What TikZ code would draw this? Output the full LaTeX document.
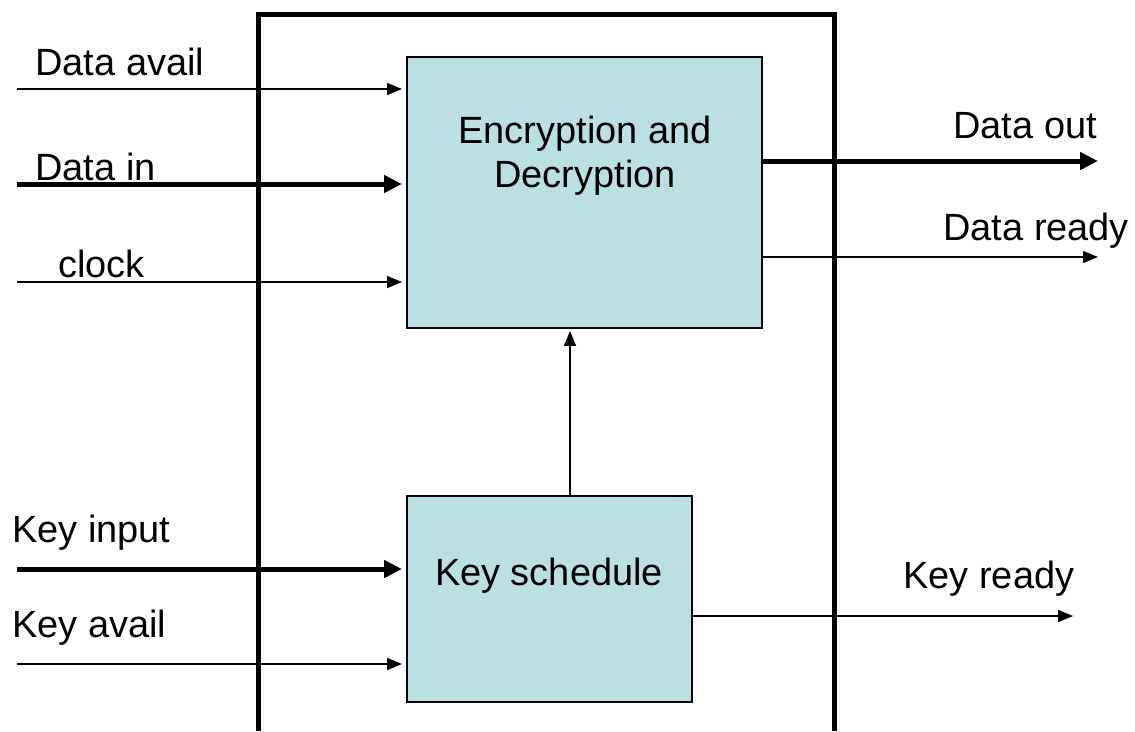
\documentclass[tikz,border=0pt]{standalone}
\usepackage{fontspec}
\setmainfont{Liberation Sans}
\usepackage{tikz}
\usetikzlibrary{arrows.meta, calc}

\definecolor{boxfill}{RGB}{186,224,228}

\tikzset{
  frame/.style={line width=2.85pt, line join=miter},
  block/.style={draw, fill=boxfill, line width=1.1pt, inner sep=0pt, outer sep=0pt},
  sig/.style={line width=0.85pt, -{Triangle[length=0.3cm, width=0.24cm]}},
  bus/.style={line width=2.85pt, -{Triangle[length=0.36cm, width=0.34cm]}},
  lab/.style={font=\fontsize{21.6}{26}\selectfont, inner sep=0pt}
}

\begin{document}
\begin{tikzpicture}[x=0.02cm, y=-0.02cm]
      \useasboundingbox (0,0) rectangle (1135,731);

      \coordinate (fa) at (258,731);
      \coordinate (fb) at (258,14);
      \coordinate (fc) at (834,14);
      \coordinate (fd) at (834,731);

      \coordinate (davail) at (17,89);
      \coordinate (din) at (17,184);
      \coordinate (clk) at (17,282);
      \coordinate (kin) at (17,569);
      \coordinate (kavail) at (17,664);

      \coordinate (dout) at (1098,161);
      \coordinate (dready) at (1098,257);
      \coordinate (kready) at (1073,616);

      \coordinate (kup) at (570,496);

      \draw[frame] (fa) -- (fb) -- (fc) -- (fd);

      \node[block, minimum width=7.1cm, minimum height=5.42cm] (enc) at (584.5,192.5) {};
      \node[block, minimum width=5.7cm, minimum height=4.12cm] (keysched) at (549.5,599) {};

      \node[lab, anchor=base] (enctxt) at (585,143) {Encryption and};
      \node[lab, anchor=base] (dectxt) at (585,187) {Decryption};
      \node[lab, anchor=base] (kstxt) at (549,585) {Key schedule};

      \draw[sig, shorten >=0.1cm] (davail) -- (davail -| enc.west);
      \draw[bus, shorten >=0.1cm] (din) -- (din -| enc.west);
      \draw[sig, shorten >=0.1cm] (clk) -- (clk -| enc.west);
      \draw[bus, shorten >=0.1cm] (kin) -- (kin -| keysched.west);
      \draw[sig, shorten >=0.1cm] (kavail) -- (kavail -| keysched.west);

      \draw[bus] (dout -| enc.east) -- (dout);
      \draw[sig] (dready -| enc.east) -- (dready);
      \draw[sig] (kready -| keysched.east) -- (kready);

      \draw[sig, shorten >=0.06cm] (kup) -- (kup |- enc.south);

      \node[lab, anchor=base west] (lavail) at (35,75) {Data avail};
      \node[lab, anchor=base west] (lin) at (35,180) {Data in};
      \node[lab, anchor=base west] (lclk) at (58,277) {clock};
      \node[lab, anchor=base west] (lkin) at (12,542) {Key input};
      \node[lab, anchor=base west] (lkavail) at (12,637) {Key avail};
      \node[lab, anchor=base west] (lout) at (953,138) {Data out};
      \node[lab, anchor=base west] (lready) at (943,240) {Data ready};
      \node[lab, anchor=base west] (lkready) at (903,588) {Key ready};

    \end{tikzpicture}
\end{document}
